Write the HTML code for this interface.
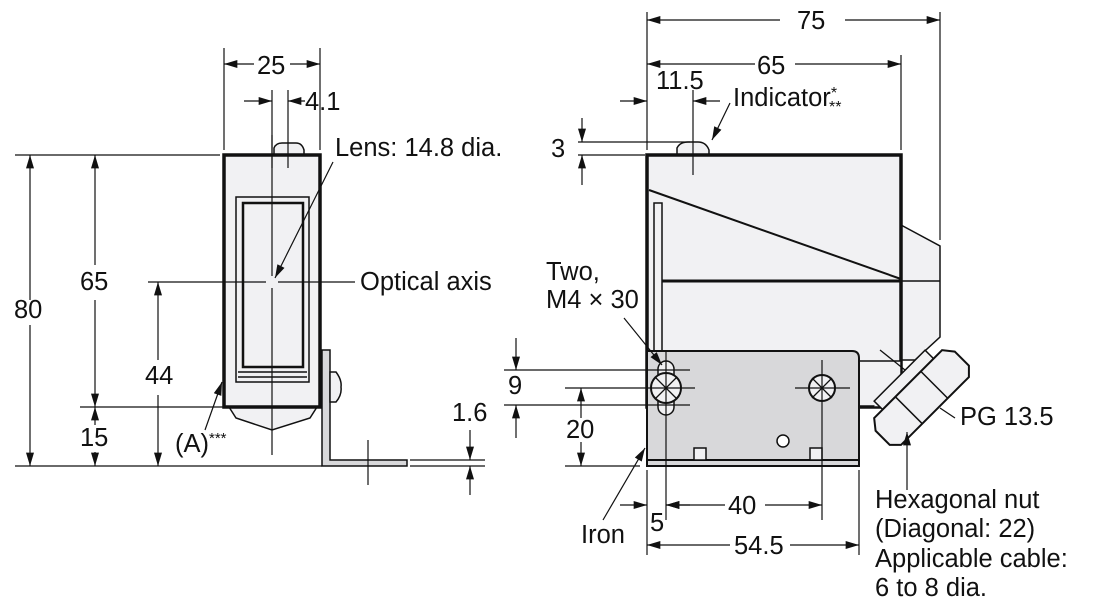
<!DOCTYPE html>
<html><head><meta charset="utf-8"><style>
html,body{margin:0;padding:0;background:#fff}
svg{display:block}
text{font-family:"Liberation Sans",sans-serif;font-size:25.5px;fill:#111}
</style></head><body>
<svg width="1103" height="613" viewBox="0 0 1103 613" xmlns="http://www.w3.org/2000/svg">
<defs>
<marker id="a" viewBox="0 0 10 6" refX="10" refY="3" markerWidth="14" markerHeight="8" markerUnits="userSpaceOnUse" orient="auto"><path d="M0,0L10,3L0,6z" fill="#111"/></marker>
</defs>
<!-- LEFT body -->
<g stroke="#111" fill="#f1f1f3">
<path d="M274,155V148Q276,143 282,143H296Q302,143 304,150V155Z" stroke-width="1.5"/>
<path d="M229,407L236,418L272,430L310,418L317,407Z" stroke-width="1.5"/>
<rect x="224" y="155" width="96" height="252" stroke-width="3.5"/>
<rect x="236" y="197" width="73" height="185" stroke-width="1.5"/>
<rect x="243" y="203" width="60" height="164" stroke-width="2.5"/>
<line x1="238" y1="372" x2="307" y2="372" stroke-width="1.5"/><line x1="238" y1="377" x2="307" y2="377" stroke-width="1.5"/>
<path d="M322,350H330V460H407V466H322Z" fill="#d8d8da" stroke-width="1.5"/>
<path d="M330,372H336Q342,380 341,387Q342,395 336,402H330Z" stroke-width="1.5"/>
</g>
<!-- RIGHT body -->
<g stroke="#111" fill="#f1f1f3">
<path d="M677,155V148Q680,142 688,142H698Q706,142 709,150V155Z" stroke-width="1.5"/>
<path d="M901,225L940,246V337L915,360L901,360Z" stroke-width="1.5"/>
<rect x="647" y="155" width="254" height="252" stroke-width="3.5"/>
<line x1="649" y1="190" x2="901" y2="279" stroke-width="2"/>
<line x1="662" y1="281" x2="901" y2="281" stroke-width="3"/>
<line x1="901" y1="281" x2="940" y2="281" stroke-width="1.5"/>
<rect x="654" y="203" width="8" height="152" stroke-width="1.5"/>
<path d="M859,361H901V407H875" stroke-width="1.5"/>
<path d="M647,351H852Q859,351 859,358V466H647Z" fill="#d8d8da" stroke-width="2"/>
<line x1="647" y1="460" x2="859" y2="460" stroke-width="2"/>
<rect x="694" y="448" width="12" height="12" stroke-width="1.5"/>
<rect x="810" y="448" width="12" height="12" stroke-width="1.5"/>
<circle cx="783" cy="441" r="6" fill="#fff" stroke-width="1.5"/>
<path d="M658,369A8,8 0 0 1 674,369V407A8,8 0 0 1 658,407Z" fill="#f1f1f3" stroke-width="1.5"/>
<circle cx="666" cy="388" r="15" stroke-width="2"/>
<circle cx="822" cy="388" r="13" stroke-width="2"/>
<g transform="translate(918,394) rotate(-45)">
<rect x="-36" y="-26" width="72" height="12" stroke-width="1.5"/>
<path d="M-48,-14H48L56,-4V16L48,24H-48L-56,16V-4Z" stroke-width="2"/>
<line x1="-18" y1="-14" x2="-18" y2="24" stroke-width="1.5"/><line x1="18" y1="-14" x2="18" y2="24" stroke-width="1.5"/>
</g>
</g>
<g stroke="#111" stroke-width="1.2" fill="none">
<!-- LEFT lines -->
<line x1="224" y1="48" x2="224" y2="150"/><line x1="320" y1="48" x2="320" y2="150"/>
<line x1="272" y1="90" x2="272" y2="168"/><line x1="288" y1="90" x2="288" y2="168"/>
<line x1="15" y1="155" x2="220" y2="155"/>
<line x1="15" y1="466" x2="322" y2="466"/>
<line x1="410" y1="466" x2="485" y2="466"/><line x1="410" y1="460" x2="485" y2="460"/>
<line x1="80" y1="407" x2="225" y2="407"/>
<line x1="148" y1="282" x2="266" y2="282"/><line x1="278" y1="282" x2="355" y2="282"/>
<line x1="272" y1="135" x2="272" y2="276"/><line x1="272" y1="288" x2="272" y2="455"/>
<line x1="368" y1="440" x2="368" y2="485"/>
<path d="M254,64H224" marker-end="url(#a)"/><path d="M290,64H320" marker-end="url(#a)"/>
<path d="M244,101H272" marker-end="url(#a)"/><path d="M305,101H288" marker-end="url(#a)"/>
<path d="M30,300V155" marker-end="url(#a)"/><path d="M30,325V466" marker-end="url(#a)"/>
<path d="M95,265V155" marker-end="url(#a)"/><path d="M95,300V407" marker-end="url(#a)"/>
<path d="M158,360V282" marker-end="url(#a)"/><path d="M158,395V466" marker-end="url(#a)"/>
<path d="M95,425V407" marker-end="url(#a)"/><path d="M95,452V466" marker-end="url(#a)"/>
<path d="M470,430V460" marker-end="url(#a)"/><path d="M470,495V466" marker-end="url(#a)"/>
<path d="M333,162L275,278" marker-end="url(#a)"/>
<path d="M205,430L222,382" marker-end="url(#a)"/>
<!-- RIGHT lines -->
<line x1="647" y1="12" x2="647" y2="150"/><line x1="940" y1="12" x2="940" y2="240"/>
<line x1="901" y1="55" x2="901" y2="150"/><line x1="693" y1="90" x2="693" y2="175"/>
<line x1="578" y1="142" x2="690" y2="142"/><line x1="578" y1="155" x2="645" y2="155"/>
<line x1="504" y1="370" x2="690" y2="370"/><line x1="565" y1="388" x2="695" y2="388"/><line x1="504" y1="405" x2="690" y2="405"/>
<line x1="565" y1="466" x2="640" y2="466"/>
<line x1="647" y1="470" x2="647" y2="555"/><line x1="666" y1="350" x2="666" y2="520"/>
<line x1="822" y1="360" x2="822" y2="520"/><line x1="859" y1="470" x2="859" y2="555"/>
<line x1="795" y1="388" x2="850" y2="388"/>
<path d="M780,20H647" marker-end="url(#a)"/><path d="M845,20H940" marker-end="url(#a)"/>
<path d="M755,64H647" marker-end="url(#a)"/><path d="M795,64H901" marker-end="url(#a)"/>
<path d="M620,101H647" marker-end="url(#a)"/><path d="M720,101H693" marker-end="url(#a)"/>
<path d="M582,118V142" marker-end="url(#a)"/><path d="M582,185V155" marker-end="url(#a)"/>
<path d="M516,338V370" marker-end="url(#a)"/><path d="M516,438V405" marker-end="url(#a)"/>
<path d="M581,418V388" marker-end="url(#a)"/><path d="M581,442V466" marker-end="url(#a)"/>
<path d="M620,505H647" marker-end="url(#a)"/><path d="M690,505H666" marker-end="url(#a)"/>
<path d="M725,505H666" marker-end="url(#a)"/><path d="M765,505H822" marker-end="url(#a)"/>
<path d="M730,545H647" marker-end="url(#a)"/><path d="M790,545H859" marker-end="url(#a)"/>
<path d="M730,103L712,140" marker-end="url(#a)"/>
<path d="M624,318L662,365" marker-end="url(#a)"/>
<path d="M603,520L645,448" marker-end="url(#a)"/>
<path d="M907,490V432" marker-end="url(#a)"/>
<path d="M955,418L940,408"/>
</g>
<g stroke="#111" stroke-width="1.3">
<line x1="655" y1="377" x2="677" y2="399"/><line x1="677" y1="377" x2="655" y2="399"/>
<line x1="812" y1="378" x2="832" y2="398"/><line x1="832" y1="378" x2="812" y2="398"/>
<line x1="880" y1="350" x2="905" y2="370"/>
</g>
<!-- text -->
<text x="257" y="74">25</text>
<text x="305" y="110">4.1</text>
<text x="335" y="156">Lens: 14.8 dia.</text>
<text x="360" y="290">Optical axis</text>
<text x="14" y="318">80</text>
<text x="80" y="290">65</text>
<text x="145" y="384">44</text>
<text x="80" y="446">15</text>
<text x="175" y="452">(A)<tspan font-size="15" dy="-9">***</tspan></text>
<text x="452" y="421">1.6</text>
<text x="797" y="29">75</text>
<text x="757" y="74">65</text>
<text x="656" y="89">11.5</text>
<text x="733" y="106">Indicator<tspan font-size="16" dy="-8">*</tspan><tspan font-size="16" dx="-8" dy="14">**</tspan></text>
<text x="551" y="157">3</text>
<text x="546" y="280">Two,</text>
<text x="546" y="308">M4 × 30</text>
<text x="508" y="394">9</text>
<text x="566" y="438">20</text>
<text x="728" y="514">40</text>
<text x="650" y="531">5</text>
<text x="581" y="543">Iron</text>
<text x="734" y="554">54.5</text>
<text x="960" y="425">PG 13.5</text>
<text x="875" y="508">Hexagonal nut</text>
<text x="875" y="537">(Diagonal: 22)</text>
<text x="875" y="567">Applicable cable:</text>
<text x="875" y="596">6 to 8 dia.</text>
</svg>
</body></html>
